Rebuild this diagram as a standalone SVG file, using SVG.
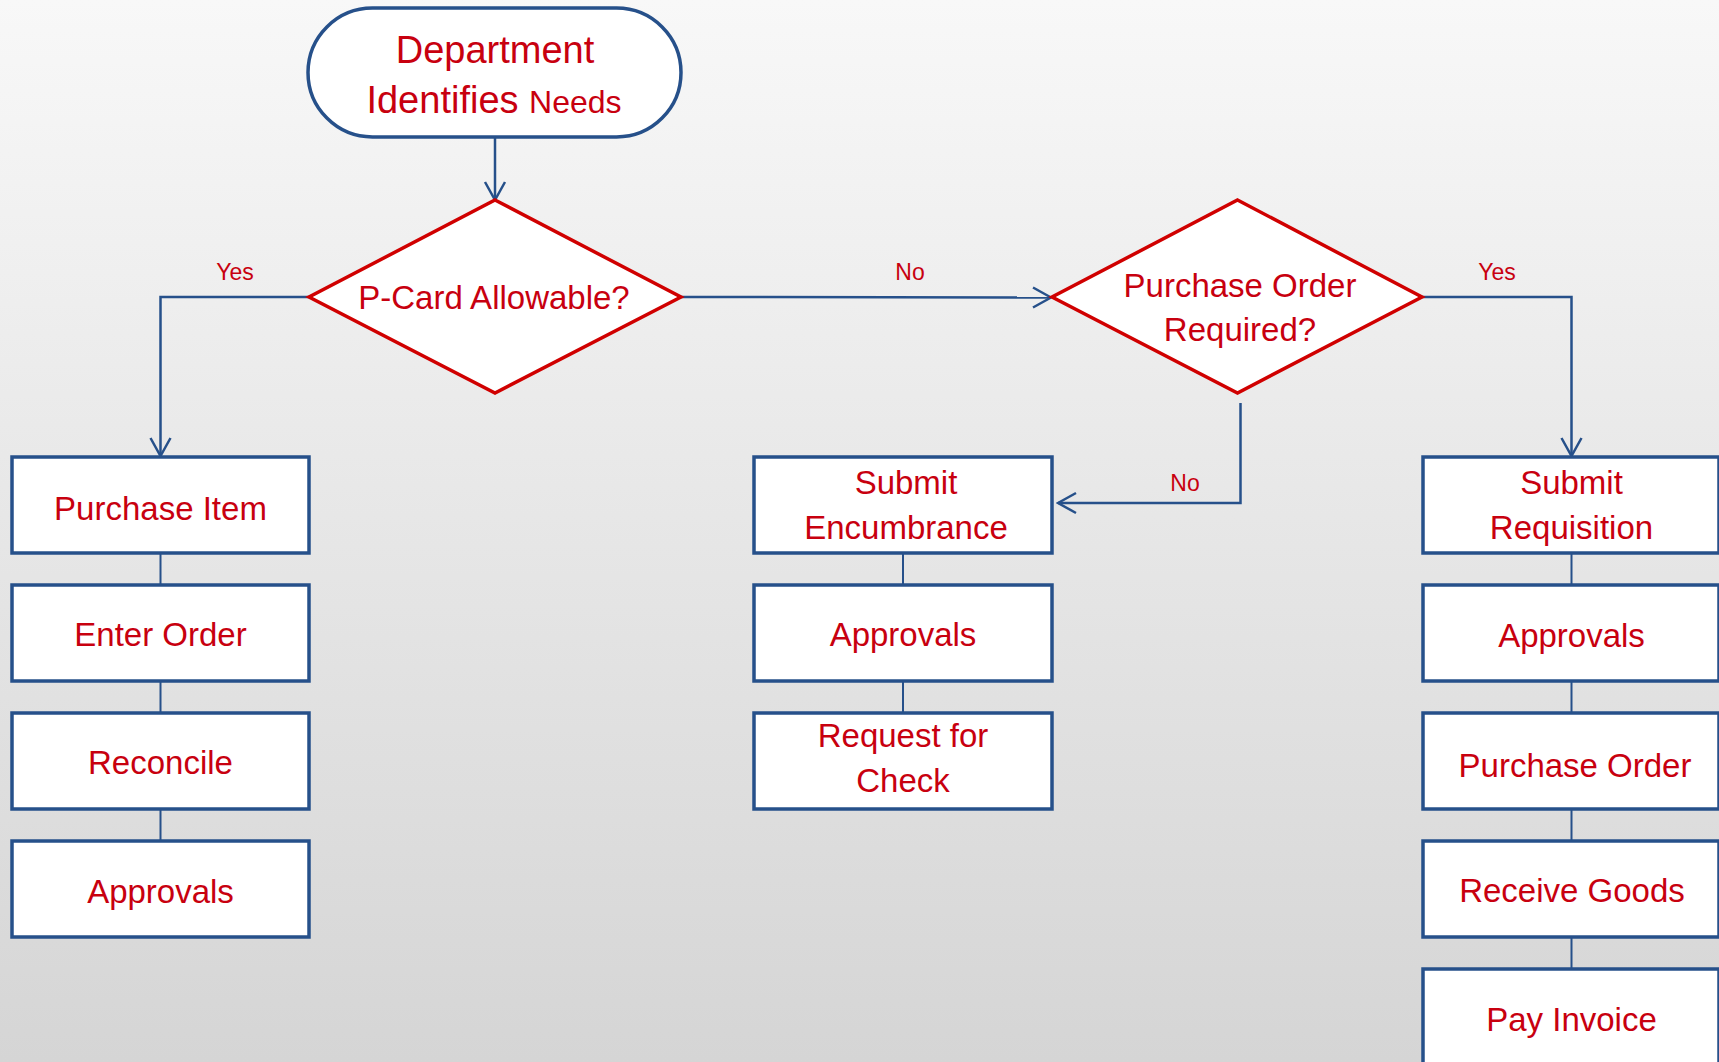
<svg xmlns="http://www.w3.org/2000/svg" width="1719" height="1062" viewBox="0 0 1719 1062">
<defs>
<linearGradient id="bg" x1="0" y1="0" x2="0" y2="1">
<stop offset="0" stop-color="#f8f8f8"/>
<stop offset="1" stop-color="#d5d5d5"/>
</linearGradient>
<marker id="arr" markerUnits="userSpaceOnUse" viewBox="-21 -12 23 24" markerWidth="23" markerHeight="24" refX="0" refY="0" orient="auto">
<path d="M-18,-10 L0,0 L-18,10" fill="none" stroke="#26508a" stroke-width="2.5" stroke-linejoin="miter"/>
</marker>
<style>
.box{fill:#ffffff;stroke:#26508a;stroke-width:3.5;}
.dia{fill:#ffffff;stroke:#d00000;stroke-width:3.5;stroke-linejoin:miter;}
.t{font-family:"Liberation Sans",Arial,sans-serif;font-size:33px;fill:#c8000f;text-anchor:middle;}
.lbl{font-family:"Liberation Sans",Arial,sans-serif;font-size:23px;fill:#c8000f;text-anchor:middle;}
.c{fill:none;stroke:#26508a;stroke-width:2.5;}
.c2{fill:none;stroke:#26508a;stroke-width:2;}
</style>
</defs>
<rect x="0" y="0" width="1719" height="1062" fill="url(#bg)"/>

<g id="connectors">
<path class="c" d="M495,137 L495,200" marker-end="url(#arr)"/>
<path class="c" d="M309,297 L160.5,297 L160.5,456" marker-end="url(#arr)"/>
<path class="c" d="M681,297 L1051,297.5" marker-end="url(#arr)"/>
<path class="c" d="M1422,297 L1571.5,297 L1571.5,456" marker-end="url(#arr)"/>
<path class="c" d="M1240.5,403 L1240.5,503 L1058,503" marker-end="url(#arr)"/>
<path class="c2" d="M160.5,553 V585 M160.5,681 V713 M160.5,809 V841"/>
<path class="c2" d="M903,553 V585 M903,681 V713"/>
<path class="c2" d="M1571.5,553 V585 M1571.5,681 V713 M1571.5,809 V841 M1571.5,937 V969"/>
<text class="lbl" x="235" y="280">Yes</text>
<text class="lbl" x="910" y="280">No</text>
<text class="lbl" x="1497" y="280">Yes</text>
<text class="lbl" x="1185" y="491">No</text>
</g>

<g id="start">
<rect class="box" x="308" y="8" width="373" height="129" rx="64.5" ry="64.5"/>
<text class="t" x="495" y="63" style="font-size:38px">Department</text>
<text class="t" x="494" y="113" style="font-size:38px">Identifies <tspan style="font-size:32px">Needs</tspan></text>
</g>

<g id="pcard">
<polygon class="dia" points="495,200 681,297 495,393 309,297"/>
<text class="t" x="494" y="309">P-Card Allowable?</text>
</g>

<g id="poreq">
<polygon class="dia" points="1237.5,200 1422,297 1237.5,393 1052,297"/>
<text class="t" x="1240" y="297">Purchase Order</text>
<text class="t" x="1240" y="341">Required?</text>
</g>

<g id="purchase-item">
<rect class="box" x="12" y="457" width="297" height="96"/>
<text class="t" x="160.5" y="520">Purchase Item</text>
</g>
<g id="enter-order">
<rect class="box" x="12" y="585" width="297" height="96"/>
<text class="t" x="160.5" y="646">Enter Order</text>
</g>
<g id="reconcile">
<rect class="box" x="12" y="713" width="297" height="96"/>
<text class="t" x="160.5" y="774">Reconcile</text>
</g>
<g id="approvals-left">
<rect class="box" x="12" y="841" width="297" height="96"/>
<text class="t" x="160.5" y="903">Approvals</text>
</g>

<g id="submit-encumbrance">
<rect class="box" x="754" y="457" width="298" height="96"/>
<text class="t" x="906" y="494">Submit</text>
<text class="t" x="906" y="539">Encumbrance</text>
</g>
<g id="approvals-mid">
<rect class="box" x="754" y="585" width="298" height="96"/>
<text class="t" x="903" y="646">Approvals</text>
</g>
<g id="request-check">
<rect class="box" x="754" y="713" width="298" height="96"/>
<text class="t" x="903" y="747">Request for</text>
<text class="t" x="903" y="792">Check</text>
</g>

<g id="submit-requisition">
<rect class="box" x="1423" y="457" width="296" height="96"/>
<text class="t" x="1571.5" y="494">Submit</text>
<text class="t" x="1571.5" y="539">Requisition</text>
</g>
<g id="approvals-right">
<rect class="box" x="1423" y="585" width="296" height="96"/>
<text class="t" x="1571.5" y="647">Approvals</text>
</g>
<g id="purchase-order">
<rect class="box" x="1423" y="713" width="296" height="96"/>
<text class="t" x="1575" y="777">Purchase Order</text>
</g>
<g id="receive-goods">
<rect class="box" x="1423" y="841" width="296" height="96"/>
<text class="t" x="1572" y="902">Receive Goods</text>
</g>
<g id="pay-invoice">
<rect class="box" x="1423" y="969" width="296" height="110"/>
<text class="t" x="1571.5" y="1031">Pay Invoice</text>
</g>
</svg>
